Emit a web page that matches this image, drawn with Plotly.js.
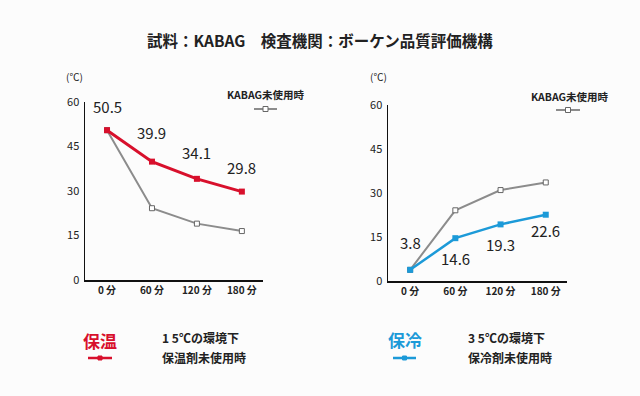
<!DOCTYPE html>
<html><head><meta charset="utf-8">
<script src="https://cdn.plot.ly/plotly-3.0.1.min.js"></script>
<style>html,body{margin:0;padding:0;background:#fcfcfc;}#c{width:640px;height:396px;}</style>
</head><body><div id="c"></div>
<script>
const categories = ["0 分", "60 分", "120 分", "180 分"];
const warmWith = [50.5, 39.9, 34.1, 29.8];
const warmWithout = [50.5, 24.2, 19.0, 16.5];
const coolWith = [3.8, 14.6, 19.3, 22.6];
const coolWithout = [3.8, 24.1, 31.0, 33.6];
const yTicks = [0, 15, 30, 45, 60];
const titleText = "試料：KABAG　検査機関：ボーケン品質評価機構";
const grayName = "KABAG未使用時";

const FONT = "Noto Sans CJK JP, Noto Sans, sans-serif";
const RED = "#d8102c", BLUE = "#1c9ad8", GRAY = "#8c8c8c", INK = "#222222";

const traces = [
  {x: categories, y: warmWithout, xaxis: "x", yaxis: "y", mode: "lines+markers",
   line: {color: GRAY, width: 2}, marker: {symbol: "square", size: 5, color: "#ffffff", line: {color: "#666", width: 1}}},
  {x: categories, y: warmWith, xaxis: "x", yaxis: "y", mode: "lines+markers",
   line: {color: RED, width: 3}, marker: {symbol: "square", size: 6, color: RED}},
  {x: categories, y: coolWithout, xaxis: "x2", yaxis: "y2", mode: "lines+markers",
   line: {color: GRAY, width: 2}, marker: {symbol: "square", size: 5, color: "#ffffff", line: {color: "#666", width: 1}}},
  {x: categories, y: coolWith, xaxis: "x2", yaxis: "y2", mode: "lines+markers",
   line: {color: BLUE, width: 2.5}, marker: {symbol: "square", size: 6, color: BLUE}}
];

function xa(domain) {
  return {domain: domain, type: "category", range: [-0.49, 3.47], showline: true, linecolor: "#111", linewidth: 1.5,
    showgrid: false, zeroline: false, ticks: "", tickfont: {family: FONT, size: 10, color: INK, weight: "bold"}, fixedrange: true};
}
function ya(domain, anchor) {
  return {domain: domain, anchor: anchor, range: [0, 60], tickvals: yTicks, showline: true, linecolor: "#111", linewidth: 1.5,
    showgrid: false, zeroline: false, ticks: "", ticklabelstandoff: 2, tickfont: {family: FONT, size: 11, color: INK}, fixedrange: true};
}

const annotations = [];
const warmShift = [24, 29, 26, 24];
warmWith.forEach((v, i) => annotations.push({x: categories[i], y: v, xref: "x", yref: "y", text: v.toFixed(1),
  showarrow: false, yshift: warmShift[i], font: {family: FONT, size: 15, color: INK}}));
const coolShift = [27, -20, -20, -16];
coolWith.forEach((v, i) => annotations.push({x: categories[i], y: v, xref: "x2", yref: "y2", text: v.toFixed(1),
  showarrow: false, yshift: coolShift[i], font: {family: FONT, size: 15, color: INK}}));

function pa(x, y, text, size, color, xanchor, weight) {
  annotations.push({x: x / 640, y: 1 - y / 396, xref: "paper", yref: "paper", text: text, showarrow: false,
    xanchor: xanchor || "center", yanchor: "middle", font: {family: FONT, size: size, color: color, weight: weight || "normal"}});
}
pa(320, 40, titleText, 15.5, INK, "center", "bold");
pa(74, 77, "(℃)", 10, INK);
pa(378, 77, "(℃)", 10, INK);
pa(266, 95, grayName, 10.5, INK, "center", "bold");
pa(570, 96, grayName, 10.5, INK, "center", "bold");
pa(100, 340, "保温", 17, RED, "center", "bold");
pa(405, 339, "保冷", 17, BLUE, "center", "bold");
pa(160, 337, "1 5℃の環境下", 12, INK, "left", "bold");
pa(160, 357, "保温剤未使用時", 12, INK, "left", "bold");
pa(466, 337, "3 5℃の環境下", 12, INK, "left", "bold");
pa(466, 357, "保冷剤未使用時", 12, INK, "left", "bold");

const shapes = [];
function legLine(x0, x1, y, color, w, hollow) {
  shapes.push({type: "line", xref: "paper", yref: "paper", x0: x0 / 640, x1: x1 / 640, y0: 1 - y / 396, y1: 1 - y / 396,
    line: {color: color, width: w}});
  const cx = (x0 + x1) / 2, s = hollow ? 2.5 : 2;
  shapes.push({type: "rect", xref: "paper", yref: "paper", x0: (cx - s) / 640, x1: (cx + s) / 640,
    y0: 1 - (y + s) / 396, y1: 1 - (y - s) / 396, fillcolor: hollow ? "#ffffff" : color,
    line: {color: hollow ? "#666" : color, width: 1}});
}
legLine(254, 277, 109, GRAY, 2, true);
legLine(556, 580, 110, GRAY, 2, true);
legLine(88, 112, 358, RED, 2.5, false);
legLine(393, 416, 358, BLUE, 2.5, false);

const layout = {
  width: 640, height: 396, margin: {l: 0, r: 0, t: 0, b: 0},
  paper_bgcolor: "#fcfcfc", plot_bgcolor: "#fcfcfc", showlegend: false,
  xaxis: Object.assign(xa([85 / 640, 263 / 640]), {anchor: "y"}),
  yaxis: ya([1 - 280 / 396, 1 - 102 / 396], "x"),
  xaxis2: Object.assign(xa([388 / 640, 567 / 640]), {anchor: "y2"}),
  yaxis2: ya([1 - 281 / 396, 1 - 105 / 396], "x2"),
  annotations: annotations, shapes: shapes
};
Plotly.newPlot("c", traces, layout, {displayModeBar: false, staticPlot: true});
</script></body></html>
